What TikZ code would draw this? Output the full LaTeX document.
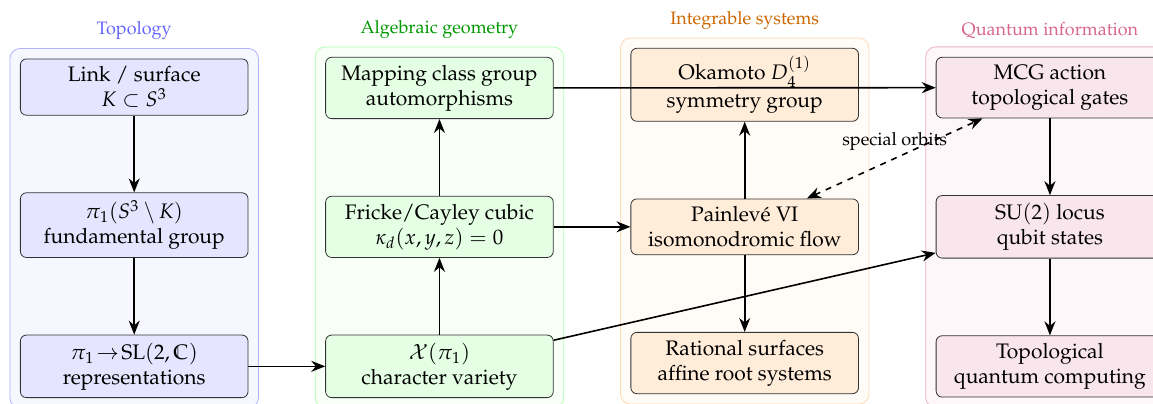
\documentclass[tikz,border=0pt]{standalone}
\usepackage[T1]{fontenc}
\usepackage{mathpazo}
\usepackage{amssymb}
\usetikzlibrary{positioning,fit,backgrounds,arrows.meta}

\tikzset{
  box/.style={draw=black!80, rounded corners=3pt, minimum width=4cm, align=center, inner sep=3.8pt,
    font=\fontsize{10.5pt}{12.5pt}\selectfont},
  bgbox/.style={rounded corners=5pt, inner sep=5pt},
  title/.style={font=\small, label distance=0.5pt},
  arr/.style={-{Stealth[length=7pt,width=5.5pt]}, thick},
}

\begin{document}
\begin{tikzpicture}[node distance=1.35cm]
  % topology
  \node[box, fill=blue!10] (link) {Link / surface\\ $K\subset S^3$};
  \node[box, fill=blue!10, below=of link] (fund) {$\pi_1(S^3\setminus K)$\\ fundamental group};
  \node[box, fill=blue!10, below=of fund] (rep) {$\pi_1\!\to\!\mathrm{SL}(2,\mathbb{C})$\\ representations};
  % algebraic geometry
  \node[box, fill=green!10, right=of rep] (charvar) {$\mathcal{X}(\pi_1)$\\ character variety};
  \node[box, fill=green!10, above=of charvar] (fricke) {Fricke/Cayley cubic\\ $\kappa_d(x,y,z)=0$};
  \node[box, fill=green!10, above=of fricke] (mcg) {Mapping class group\\ automorphisms};
  % integrable systems
  \node[box, fill=orange!15, right=of fricke] (painleve) {Painlev\'e VI\\ isomonodromic flow};
  \node[box, fill=orange!15, above=of painleve] (okamoto) {Okamoto $D_4^{(1)}$\\[1.5pt] symmetry group};
  \node[box, fill=orange!15, below=of painleve] (rational) {Rational surfaces\\ affine root systems};
  % quantum information
  \node[box, fill=purple!10, right=of painleve] (qubit) {SU$(2)$ locus\\ qubit states};
  \node[box, fill=purple!10, above=of qubit] (gates) {MCG action\\ topological gates};
  \node[box, fill=purple!10, below=of qubit] (tqc) {Topological\\ quantum computing};

  \begin{scope}[on background layer]
    \node[bgbox, draw=blue!30, fill=blue!3, fit=(link)(rep),
      label={[title, text=blue!60]above:Topology}] (topo) {};
    \node[bgbox, draw=green!30, fill=green!3, fit=(mcg)(charvar),
      label={[title, text=green!60!black]above:Algebraic geometry}] (alggeo) {};
    \node[bgbox, draw=orange!30, fill=orange!3, fit=(okamoto)(rational),
      label={[title, text=orange!80!black]above:Integrable systems}] (integ) {};
    \node[bgbox, draw=purple!30, fill=purple!3, fit=(gates)(tqc),
      label={[title, text=purple!60]above:Quantum information}] (quant) {};
  \end{scope}

  \draw[arr] (link) -- (fund);
  \draw[arr] (fund) -- (rep);
  \draw[arr] (rep) -- (charvar);
  \draw[arr] (charvar) -- (fricke);
  \draw[arr] (fricke) -- (mcg);
  \draw[arr] (fricke) -- (painleve);
  \draw[arr] (painleve) -- (okamoto);
  \draw[arr] (painleve) -- (rational);
  \draw[arr] (mcg) -- (gates);
  \draw[arr] (charvar) -- (qubit);
  \draw[arr] (gates) -- (qubit);
  \draw[arr] (qubit) -- (tqc);
  \draw[arr, dashed, {Stealth[length=7pt,width=5.5pt]}-{Stealth[length=7pt,width=5.5pt]}] (painleve) -- node[midway, above, font=\small] {special orbits} (gates);

  \pgfresetboundingbox
  \path[use as bounding box] ([shift={(-10pt,-2.5pt)}]rep.south west) rectangle ([shift={(566.5pt,199pt)}]rep.south west);
\end{tikzpicture}
\end{document}
